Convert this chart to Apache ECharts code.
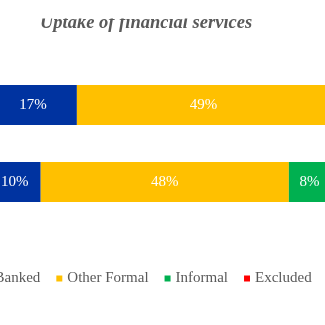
<!DOCTYPE html>
<html>
<head>
<meta charset="utf-8">
<script src="https://cdn.jsdelivr.net/npm/echarts@6/dist/echarts.min.js"></script>
<style>
html,body{margin:0;padding:0;width:325px;height:325px;overflow:hidden;background:#fff;position:relative;}
#c{position:absolute;left:-40px;top:0;width:600px;height:325px;}
</style>
</head>
<body>
<div id="c"></div>
<script>
var categories = ['2019', '2015'];
var seriesNames = ['Banked', 'Other Formal', 'Informal', 'Excluded'];
var banked = [10, 17];
var otherFormal = [48, 49];
var informal = [8, 13];
var excluded = [34, 21];
var colors = ['#0033A0', '#FFC000', '#00B050', '#FF0000'];
var titleText = 'Uptake of financial services';

var chart = echarts.init(document.getElementById('c'), null, {renderer: 'canvas'});
var values = [banked, otherFormal, informal, excluded];
var serif = '"Liberation Serif", "Times New Roman", serif';

chart.setOption({
  animation: false,
  title: {
    text: titleText,
    left: 75,
    top: 9,
    textStyle: {fontFamily: serif, fontStyle: 'italic', fontWeight: 'bold', fontSize: 18.5, color: '#595959'}
  },
  graphic: [{
    type: 'rect',
    z: 100,
    shape: {x: 0, y: 0, width: 600, height: 18.5},
    style: {fill: '#ffffff'}
  }],
  legend: {
    data: seriesNames,
    left: 18.5,
    top: 266,
    itemWidth: 6,
    itemHeight: 6,
    itemGap: 16,
    icon: 'rect',
    textStyle: {fontFamily: serif, fontSize: 15, color: '#595959'}
  },
  grid: {left: 29, width: 517, top: 66.5, height: 154, containLabel: false, outerBoundsMode: 'none'},
  xAxis: {
    type: 'value', min: 0, max: 100, show: false
  },
  yAxis: {
    type: 'category', data: categories,
    axisLine: {show: false}, axisTick: {show: false},
    axisLabel: {show: false}
  },
  series: seriesNames.map(function (n, i) {
    return {
      name: n,
      type: 'bar',
      stack: 'total',
      barWidth: 40,
      itemStyle: {color: colors[i]},
      label: {
        show: true, position: 'inside', color: '#ffffff',
        fontFamily: serif, fontSize: 15,
        formatter: function (p) { return p.value + '%'; }
      },
      data: values[i]
    };
  })
});
</script>
</body>
</html>
